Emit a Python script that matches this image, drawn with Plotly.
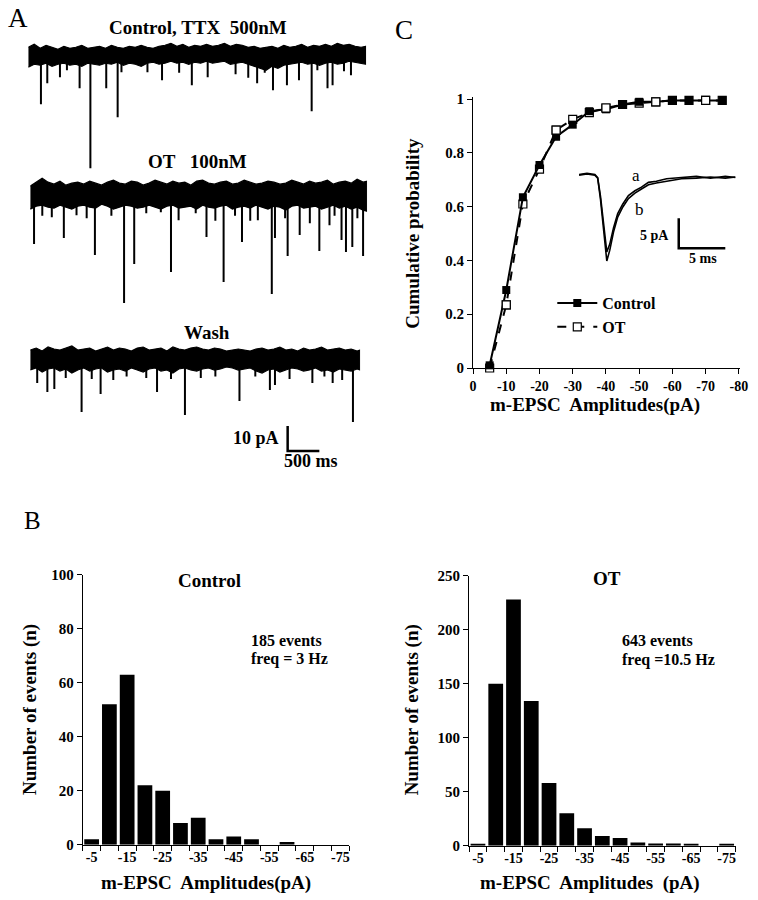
import plotly.graph_objects as go

W, H = 758, 900
F = "Liberation Serif"

# measured page->photo mapping of the viewer (photo = k*page + c); invert it so that
# positions given below are positions in the reference picture.
KX, CX = 0.9935, 0.5
KY, CY = 0.983, 7.7


def px(x):
    return ((x - CX) / KX) / W


def py(y):
    return 1 - ((y - CY) / KY) / H


# ---------------- Panel A : current traces (time in s, current in pA) -------------
ctrl_band_t = [round(i * 0.09375, 3) for i in range(57)] + [5.33]
ctrl_band_hi = [3.2, 4.4, 2.8, 4.0, 3.2, 2.4, 3.6, 2.8, 3.2, 4.0,
                2.8, 3.2, 3.6, 2.8, 4.0, 3.2, 2.8, 3.6, 3.2, 4.0,
                3.2, 2.8, 3.6, 4.0, 4.8, 3.6, 4.4, 3.2, 4.0, 3.6,
                4.4, 3.6, 4.0, 4.8, 3.6, 4.4, 4.0, 3.2, 3.6, 2.8,
                3.2, 3.6, 2.8, 4.0, 3.2, 3.6, 4.4, 3.2, 4.0, 3.6,
                4.4, 3.6, 4.8, 4.0, 4.4, 3.6, 3.2, 3.6]
ctrl_band_lo = [-4.8, -3.6, -4.0, -3.2, -4.4, -3.6, -3.2, -4.0, -3.6, -4.4,
                -3.2, -3.6, -4.0, -3.2, -3.6, -2.8, -4.0, -3.2, -3.6, -4.4,
                -3.2, -2.8, -3.6, -3.2, -2.4, -3.2, -2.8, -3.6, -2.8, -3.2,
                -2.4, -3.2, -2.8, -2.4, -3.6, -3.2, -2.8, -3.6, -4.4, -5.2,
                -6.0, -4.4, -5.2, -4.0, -3.6, -3.2, -2.8, -3.6, -3.2, -4.0,
                -3.2, -2.8, -3.6, -3.2, -2.4, -2.8, -3.2, -3.6]
ctrl_spike_t = [0.20, 0.30, 0.50, 0.61, 0.81, 0.98, 1.23, 1.41, 1.47, 1.88, 2.11, 2.38,
                2.58, 2.83, 3.27, 3.47, 3.61, 3.73, 3.86, 4.08, 4.27, 4.47, 4.56, 4.72,
                4.80, 4.98, 5.09]
ctrl_spike_amp = [-19.6, -11.2, -8.8, -6.0, -13.2, -45.2, -13.2, -24.8, -6.8, -6.8, -10.0,
                  -7.0, -12.0, -8.8, -7.6, -9.0, -11.2, -7.0, -14.0, -12.0, -10.0, -22.4,
                  -6.0, -13.2, -12.0, -6.4, -8.0]

ot_band_t = [round(i * 0.09375, 3) for i in range(57)] + [5.31]
ot_band_hi = [2.8, 4.4, 6.0, 4.4, 3.6, 4.8, 3.2, 4.0, 4.4, 3.6,
              4.8, 4.0, 3.2, 4.4, 5.2, 4.0, 3.6, 4.8, 4.4, 3.2,
              4.0, 5.2, 4.4, 3.6, 4.8, 4.0, 4.4, 3.2, 4.8, 5.2,
              4.0, 3.6, 4.4, 4.8, 3.6, 4.0, 5.2, 4.4, 3.6, 4.0,
              4.8, 4.4, 3.6, 4.0, 5.2, 4.4, 3.6, 4.8, 4.0, 4.4,
              5.2, 3.6, 4.4, 4.8, 4.0, 5.6, 4.4, 4.8]
ot_band_lo = [-6.4, -5.2, -4.8, -5.6, -6.0, -4.8, -5.6, -6.4, -5.2, -4.8,
              -5.6, -6.0, -4.4, -5.2, -6.4, -5.6, -4.8, -5.2, -6.0, -5.6,
              -4.8, -5.6, -6.4, -5.2, -4.8, -6.0, -5.6, -5.2, -6.4, -4.8,
              -5.6, -6.0, -5.2, -4.8, -6.4, -5.6, -5.2, -6.0, -4.8, -5.6,
              -6.4, -5.2, -5.6, -6.8, -5.2, -4.8, -6.0, -5.6, -5.2, -6.4,
              -5.6, -4.8, -6.0, -5.2, -6.4, -5.6, -6.8, -7.2]
ot_spike_t = [0.06, 0.19, 0.34, 0.53, 0.73, 0.89, 1.02, 1.28, 1.48, 1.64, 1.83, 2.06,
              2.22, 2.34, 2.61, 2.78, 2.92, 3.05, 3.23, 3.34, 3.47, 3.59, 3.81, 3.86,
              4.02, 4.06, 4.25, 4.41, 4.56, 4.72, 4.80, 4.91, 4.98, 5.08, 5.16, 5.25]
ot_spike_amp = [-20.4, -9.0, -9.6, -18.0, -8.8, -10.0, -24.8, -9.0, -44.0, -28.4, -8.0,
                -7.6, -31.6, -10.8, -8.0, -17.6, -11.0, -35.6, -9.0, -19.6, -11.0, -10.8,
                -40.4, -18.0, -10.0, -25.2, -16.8, -12.0, -23.2, -12.8, -9.0, -18.8, -23.6,
                -21.6, -10.0, -25.2]

wash_band_t = [round(i * 0.09375, 3) for i in range(56)] + [5.20]
wash_band_hi = [3.6, 4.4, 3.2, 4.8, 4.0, 3.6, 4.4, 5.2, 3.6, 4.0,
                4.4, 3.2, 4.0, 4.8, 3.6, 4.4, 4.0, 3.2, 4.4, 4.8,
                3.6, 4.0, 4.4, 3.2, 4.8, 4.0, 3.6, 4.4, 4.8, 4.0,
                3.6, 4.4, 4.0, 3.2, 3.6, 4.0, 3.6, 3.2, 4.0, 4.4,
                3.6, 4.0, 4.8, 3.6, 4.0, 3.2, 4.4, 3.6, 4.0, 4.8,
                3.6, 4.0, 4.4, 3.6, 4.0, 3.2, 3.6]
wash_band_lo = [-4.4, -3.6, -5.2, -4.0, -3.6, -4.8, -4.0, -5.6, -4.4, -3.6,
                -4.8, -4.0, -3.6, -5.2, -4.4, -4.0, -4.8, -3.6, -4.4, -5.2,
                -4.0, -3.6, -4.8, -4.4, -5.6, -4.0, -3.6, -4.4, -4.8, -4.0,
                -3.6, -4.4, -4.0, -3.2, -3.6, -4.4, -4.0, -3.6, -4.8, -5.6,
                -4.4, -4.0, -5.2, -4.4, -3.6, -4.0, -4.8, -4.4, -3.6, -4.8,
                -4.4, -5.2, -4.0, -4.4, -4.8, -4.0, -4.4]
wash_spike_t = [0.11, 0.27, 0.38, 0.56, 0.81, 0.97, 1.11, 1.31, 1.52, 1.83, 2.00, 2.22,
                2.44, 2.69, 2.92, 3.30, 3.55, 3.78, 3.86, 4.09, 4.45, 4.64, 4.77, 4.92, 5.09]
wash_spike_amp = [-9.6, -13.2, -12.0, -7.6, -21.2, -8.0, -14.0, -8.4, -7.0, -7.6, -13.2,
                  -8.0, -22.4, -7.6, -7.0, -16.8, -7.0, -12.4, -10.4, -8.0, -9.6, -7.0,
                  -9.6, -8.4, -25.2]

trace_titles = ["Control, TTX\u00a0 500nM", "OT\u00a0\u00a0 100nM", "Wash"]
scale_ms = 500   # time scale bar (ms)
scale_pA = 10    # current scale bar (pA)

# ---------------- Panel C : cumulative probability -----------------------------
cum_amp = [-5, -10, -15, -20, -25, -30, -35, -40, -45, -50, -55, -60, -65, -70, -75]
cum_control = [0.01, 0.29, 0.635, 0.755, 0.86, 0.905, 0.955, 0.962, 0.98, 0.99, 0.99,
               0.995, 0.995, 0.995, 0.995]
cum_ot = [0.0, 0.235, 0.61, 0.74, 0.885, 0.925, 0.95, 0.967, 0.98, 0.985, 0.99, 0.995,
          0.995, 0.995, 0.995]
cum_ticks = [0, -10, -20, -30, -40, -50, -60, -70, -80]

# inset averaged mEPSCs (time ms, current pA)
inset_t = [0, 0.85, 1.7, 2.0, 2.3, 2.66, 2.98, 3.3, 3.7, 4.15, 4.7, 5.3, 6.0, 6.7, 7.45,
           8.3, 9.4, 11.0, 12.6, 14.1, 15.7, 16.8]
inset_a = [0.1, 0.3, 0.1, -0.4, -3.5, -9.0, -12.8, -11.5, -8.8, -6.4, -4.8, -3.4, -2.6,
           -2.0, -1.2, -1.0, -0.6, -0.4, -0.2, -0.5, -0.2, -0.4]
inset_b = [0.0, 0.2, 0.0, -0.5, -4.0, -10.0, -14.3, -12.5, -9.5, -7.0, -5.3, -3.9, -3.0,
           -2.3, -1.6, -1.3, -1.0, -0.6, -0.5, -0.3, -0.5, -0.3]
inset_scale_ms = 5
inset_scale_pA = 5

# ---------------- Panel B : histograms ------------------------------------------
bins = ["-5", "-10", "-15", "-20", "-25", "-30", "-35", "-40", "-45", "-50", "-55", "-60",
        "-65", "-70", "-75"]
hist_control = [2, 52, 63, 22, 20, 8, 10, 2, 3, 2, 0, 1, 0, 0, 0]
hist_ot = [1, 150, 228, 134, 58, 30, 16, 9, 7, 3, 2, 2, 1, 0, 1]

fig = go.Figure()
BLACK = "black"


def add_trace_panel(n, t, hi, lo, st, sa):
    xa, ya = ("x", "y") if n == 1 else (f"x{n}", f"y{n}")
    fig.add_trace(go.Scatter(x=t + t[::-1], y=hi + lo[::-1], fill="toself",
                             fillcolor=BLACK, mode="lines",
                             line=dict(color=BLACK, width=1.2),
                             xaxis=xa, yaxis=ya, showlegend=False, hoverinfo="skip"))
    sx, sy = [], []
    for tt, aa in zip(st, sa):
        sx += [tt, tt, None]
        sy += [0, aa, None]
    fig.add_trace(go.Scatter(x=sx, y=sy, mode="lines", line=dict(color=BLACK, width=2),
                             xaxis=xa, yaxis=ya, showlegend=False, hoverinfo="skip"))


add_trace_panel(1, ctrl_band_t, ctrl_band_hi, ctrl_band_lo, ctrl_spike_t, ctrl_spike_amp)
add_trace_panel(2, ot_band_t, ot_band_hi, ot_band_lo, ot_spike_t, ot_spike_amp)
add_trace_panel(3, wash_band_t, wash_band_hi, wash_band_lo, wash_spike_t, wash_spike_amp)

# scale bar (drawn in the wash axes)
sb_t0, sb_y0 = 4.06, -36.8
fig.add_trace(go.Scatter(x=[sb_t0, sb_t0, sb_t0 + scale_ms / 1000],
                         y=[sb_y0 + scale_pA, sb_y0, sb_y0], mode="lines",
                         line=dict(color=BLACK, width=2.5), xaxis="x3", yaxis="y3",
                         showlegend=False, cliponaxis=False))

# Panel C
fig.add_trace(go.Scatter(x=cum_amp, y=cum_ot, mode="lines+markers", name="OT",
                         line=dict(color=BLACK, width=2, dash="dash"),
                         marker=dict(symbol="square", size=8, color="white",
                                     line=dict(color=BLACK, width=1.2)),
                         xaxis="x4", yaxis="y4", cliponaxis=False))
fig.add_trace(go.Scatter(x=cum_amp, y=cum_control, mode="lines+markers", name="Control",
                         line=dict(color=BLACK, width=2),
                         marker=dict(symbol="square", size=8, color=BLACK),
                         xaxis="x4", yaxis="y4", cliponaxis=False))
idx = [1, 4, 7, 10, 13]
fig.add_trace(go.Scatter(x=[cum_amp[i] for i in idx], y=[cum_ot[i] for i in idx],
                         mode="markers", showlegend=False,
                         marker=dict(symbol="square", size=8, color="white",
                                     line=dict(color=BLACK, width=1.2)),
                         xaxis="x4", yaxis="y4", cliponaxis=False))

# inset
fig.add_trace(go.Scatter(x=inset_t, y=inset_a, mode="lines", line=dict(color=BLACK, width=1.6),
                         xaxis="x5", yaxis="y5", showlegend=False))
fig.add_trace(go.Scatter(x=inset_t, y=inset_b, mode="lines", line=dict(color=BLACK, width=1.6),
                         xaxis="x5", yaxis="y5", showlegend=False))
isb_t0, isb_y0 = 10.7, -12.2
fig.add_trace(go.Scatter(x=[isb_t0, isb_t0, isb_t0 + inset_scale_ms],
                         y=[isb_y0 + inset_scale_pA, isb_y0, isb_y0], mode="lines",
                         line=dict(color=BLACK, width=2.5), xaxis="x5", yaxis="y5",
                         showlegend=False, cliponaxis=False))

# histograms
fig.add_trace(go.Bar(x=bins, y=hist_control, marker=dict(color=BLACK, line=dict(width=0)),
                     xaxis="x6", yaxis="y6", showlegend=False))
fig.add_trace(go.Bar(x=bins, y=hist_ot, marker=dict(color=BLACK, line=dict(width=0)),
                     xaxis="x7", yaxis="y7", showlegend=False))

tickf = dict(family=F, size=14, color=BLACK, weight="bold")
ytickf = dict(family=F, size=15, color=BLACK, weight="bold")


def hidden(dom, rng, anchor):
    return dict(domain=dom, range=rng, visible=False, anchor=anchor, fixedrange=True)


def hist_x(dom, anchor):
    return dict(domain=dom, type="category", anchor=anchor,
                categoryorder="array", categoryarray=bins, tickson="boundaries",
                tickvals=bins, ticktext=[b if i % 2 == 0 else "" for i, b in enumerate(bins)],
                tickangle=0, showline=True, linecolor=BLACK, linewidth=1, ticks="outside",
                ticklen=5, tickcolor=BLACK, tickfont=tickf, showgrid=False,
                range=[-0.5, 14.5])


def hist_y(dom, anchor, rng, vals):
    return dict(domain=dom, range=rng, anchor=anchor, tickvals=vals, showline=True,
                linecolor=BLACK, linewidth=1, ticks="outside", ticklen=5, tickcolor=BLACK,
                tickfont=ytickf, showgrid=False, zeroline=False)


layout = dict(
    width=W, height=H, margin=dict(l=0, r=0, t=0, b=0),
    paper_bgcolor="white", plot_bgcolor="rgba(0,0,0,0)",
    font=dict(family=F, color=BLACK),
    bargap=0.17,
    xaxis=hidden([px(26), px(367)], [0, 5.328], "y"),
    yaxis=hidden([py(175), py(40)], [-48, 6], "x"),
    xaxis2=hidden([px(28), px(368)], [0, 5.3125], "y2"),
    yaxis2=hidden([py(310), py(175)], [-46.8, 7.2], "x2"),
    xaxis3=hidden([px(28), px(361)], [0, 5.203], "y3"),
    yaxis3=hidden([py(455), py(340)], [-38.4, 7.6], "x3"),
    xaxis5=hidden([px(582), px(740)], [0, 16.8], "y5"),
    yaxis5=hidden([py(270), py(160)], [-15.83, 2.5], "x5"),
    xaxis4=dict(domain=[px(475), px(744)], range=[0, -80.2], anchor="y4",
                showline=True, linecolor=BLACK, linewidth=1, ticks="outside", ticklen=5,
                tickcolor=BLACK, tickvals=cum_ticks, ticktext=[str(v) for v in cum_ticks],
                tickfont=tickf, showgrid=False, zeroline=False),
    yaxis4=dict(domain=[py(368), py(97)], range=[0, 1.007], anchor="x4",
                showline=True, linecolor=BLACK, linewidth=1, ticks="outside", ticklen=5,
                tickcolor=BLACK, tickvals=[0, 0.2, 0.4, 0.6, 0.8, 1],
                ticktext=["0", "0.2", "0.4", "0.6", "0.8", "1"],
                tickfont=ytickf, showgrid=False, zeroline=False),
    xaxis6=hist_x([px(81), px(350)], "y6"),
    yaxis6=hist_y([py(845), py(575)], "x6", [0, 100], [0, 20, 40, 60, 80, 100]),
    xaxis7=hist_x([px(471), px(740)], "y7"),
    yaxis7=hist_y([py(846), py(576)], "x7", [0, 250], [0, 50, 100, 150, 200, 250]),
    legend=dict(x=px(555), y=py(286), xanchor="left", yanchor="top",
                traceorder="reversed", bgcolor="rgba(0,0,0,0)",
                font=dict(family=F, size=16, color=BLACK, weight="bold"),
                tracegroupgap=0, itemwidth=40),
)
fig.update_layout(**layout)


def ann(text, x, y, size, bold=True, xanchor="center", angle=0):
    fig.add_annotation(text=text, x=px(x), y=py(y), xref="paper", yref="paper",
                       xanchor=xanchor, yanchor="middle", showarrow=False, textangle=angle,
                       font=dict(family=F, size=size, color=BLACK,
                                 weight="bold" if bold else "normal"))


# panel letters
ann("A", 16, 18, 27, bold=False)
ann("B", 30, 521, 25, bold=False)
ann("C", 405, 30, 27, bold=False)

# panel A titles and scale bar labels
ann(trace_titles[0], 197, 27, 19)
ann(trace_titles[1], 197, 161, 19)
ann(trace_titles[2], 206, 332, 19)
ann(f"{scale_pA} pA", 281, 438, 18, xanchor="right")
ann(f"{scale_ms} ms", 311, 461, 18)

# panel C
ann("Cumulative probability", 413, 233, 19, angle=-90)
ann("m-EPSC\u00a0 Amplitudes(pA)", 598, 405, 19)
ann("a", 640, 175, 17, bold=False)
ann("b", 643, 209, 17, bold=False)
ann(f"{inset_scale_pA} pA", 675, 235, 14, xanchor="right")
ann(f"{inset_scale_ms} ms", 707, 258, 14)

# panel B
ann("Control", 209, 581, 19)
ann("185 events", 249, 641, 16, xanchor="left")
ann("freq = 3 Hz", 249, 659, 16, xanchor="left")
ann("Number of events (n)", 27, 710, 19, angle=-90)
ann("m-EPSC\u00a0 Amplitudes(pA)", 205, 883, 19)

ann("OT", 610, 579, 19)
ann("643 events", 623, 641, 16, xanchor="left")
ann("freq =10.5 Hz", 623, 660, 16, xanchor="left")
ann("Number of events (n)", 413, 710, 19, angle=-90)
ann("m-EPSC\u00a0 Amplitudes\u00a0 (pA)", 593, 883, 19)

fig.write_html(
    "out.html",
    config={"displayModeBar": False},
    post_script="document.body.style.margin='0';document.body.style.padding='0';"
                "document.documentElement.style.overflow='hidden';",
)
